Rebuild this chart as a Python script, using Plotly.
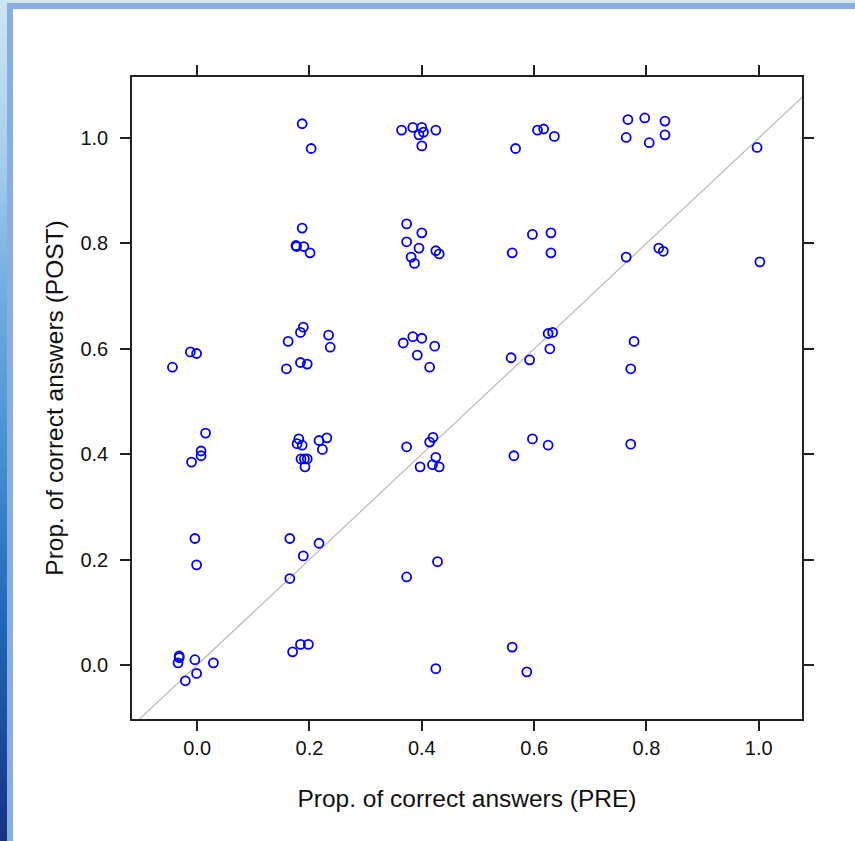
import plotly.graph_objects as go

# ---- data ----
pre = [
    -0.012, -0.001, -0.044,
    0.015, 0.007, 0.007, -0.010,
    -0.004, -0.001,
    -0.032, -0.032, -0.034, -0.004, 0.029, -0.001, -0.021,
    0.187, 0.203,
    0.187, 0.176, 0.177, 0.190, 0.201,
    0.189, 0.184, 0.162, 0.234, 0.237, 0.184, 0.196, 0.159,
    0.181, 0.178, 0.187, 0.217, 0.231, 0.223, 0.185, 0.191, 0.196, 0.192,
    0.165, 0.217, 0.189, 0.165,
    0.184, 0.198, 0.170,
    0.364, 0.384, 0.400, 0.403, 0.395, 0.425, 0.400,
    0.373, 0.400, 0.373, 0.395, 0.425, 0.431, 0.381, 0.387,
    0.367, 0.384, 0.400, 0.423, 0.392, 0.414,
    0.420, 0.414, 0.373, 0.425, 0.397, 0.419, 0.431,
    0.428, 0.373,
    0.425,
    0.606, 0.617, 0.636, 0.567,
    0.597, 0.630, 0.561, 0.630,
    0.625, 0.633, 0.628, 0.559, 0.592,
    0.597, 0.625, 0.564,
    0.561, 0.587,
    0.767, 0.797, 0.833, 0.764, 0.805, 0.833,
    0.764, 0.822, 0.830,
    0.778, 0.772, 0.772,
    0.997, 1.002,
]
post = [
    0.594, 0.591, 0.565,
    0.440, 0.406, 0.397, 0.385,
    0.240, 0.190,
    0.017, 0.014, 0.004, 0.010, 0.004, -0.016, -0.030,
    1.027, 0.980,
    0.829, 0.796, 0.794, 0.794, 0.782,
    0.641, 0.631, 0.614, 0.626, 0.603, 0.574, 0.571, 0.562,
    0.429, 0.420, 0.417, 0.426, 0.431, 0.409, 0.391, 0.391, 0.391, 0.376,
    0.240, 0.231, 0.207, 0.164,
    0.039, 0.039, 0.025,
    1.015, 1.020, 1.020, 1.011, 1.006, 1.015, 0.985,
    0.837, 0.820, 0.803, 0.791, 0.786, 0.780, 0.774, 0.762,
    0.611, 0.623, 0.620, 0.605, 0.588, 0.565,
    0.432, 0.423, 0.414, 0.394, 0.376, 0.380, 0.376,
    0.196, 0.167,
    -0.007,
    1.015, 1.017, 1.003, 0.980,
    0.817, 0.820, 0.782, 0.782,
    0.629, 0.631, 0.600, 0.583, 0.579,
    0.429, 0.417, 0.397,
    0.034, -0.013,
    1.035, 1.038, 1.032, 1.001, 0.991, 1.006,
    0.774, 0.791, 0.785,
    0.614, 0.562, 0.419,
    0.982, 0.765,
]
tick_vals = [0.0, 0.2, 0.4, 0.6, 0.8, 1.0]
tick_text = ["0.0", "0.2", "0.4", "0.6", "0.8", "1.0"]
diag = [-0.2, 1.2]  # identity reference line y = x

# ---- layout geometry ----
W, H = 855, 841
ML, MR, MT, MB = 132, 53, 77, 122
PW, PH = W - ML - MR, H - MT - MB


def px_x(px):
    return (px - ML) / PW


def px_y(py):
    return (H - MB - py) / PH


fig = go.Figure()

fig.add_trace(go.Scatter(
    x=diag, y=diag, mode="lines",
    line=dict(color="#bebebe", width=1.3),
    hoverinfo="skip", showlegend=False,
))
fig.add_trace(go.Scatter(
    x=pre, y=post, mode="markers",
    marker=dict(symbol="circle-open", size=9, color="#0000ff",
                line=dict(width=1.8, color="#0000ff")),
    showlegend=False,
))

# ---- decorative frame (left gradient strip and top strip) ----
stops = [
    (0, (208, 228, 242)),
    (150, (170, 208, 236)),
    (300, (110, 172, 222)),
    (430, (74, 150, 210)),
    (600, (30, 110, 188)),
    (720, (26, 80, 160)),
    (841, (24, 50, 130)),
]


def grad_color(y):
    for (y0, c0), (y1, c1) in zip(stops[:-1], stops[1:]):
        if y0 <= y <= y1:
            t = (y - y0) / (y1 - y0)
            c = [round(a + (b - a) * t) for a, b in zip(c0, c1)]
            return "rgb(%d,%d,%d)" % tuple(c)
    return "rgb(24,50,130)"


shapes = []
step = 6
for y0 in range(0, H, step):
    y1 = min(H, y0 + step)
    shapes.append(dict(
        type="rect", xref="paper", yref="paper", layer="below",
        x0=px_x(0), x1=px_x(7), y0=px_y(y1 + 0.5), y1=px_y(y0),
        fillcolor=grad_color((y0 + y1) / 2), line=dict(width=0),
    ))
shapes.append(dict(type="rect", xref="paper", yref="paper", layer="below",
                   x0=px_x(7), x1=px_x(W), y0=px_y(3), y1=px_y(0),
                   fillcolor="#d3e5f3", line=dict(width=0)))
shapes.append(dict(type="rect", xref="paper", yref="paper", layer="below",
                   x0=px_x(7), x1=px_x(13), y0=px_y(H), y1=px_y(3),
                   fillcolor="#8aaee3", line=dict(width=0)))
shapes.append(dict(type="rect", xref="paper", yref="paper", layer="below",
                   x0=px_x(7), x1=px_x(W), y0=px_y(9), y1=px_y(3),
                   fillcolor="#8aaee3", line=dict(width=0)))

axis_common = dict(
    showline=True, linecolor="#222222", linewidth=1.5, mirror="ticks",
    ticks="outside", ticklen=10, tickwidth=1.5, tickcolor="#222222",
    showgrid=False, zeroline=False,
    tickvals=tick_vals, ticktext=tick_text,
    tickfont=dict(family="Liberation Sans, Arial, sans-serif", size=20, color="#111111"),
)

fig.update_layout(
    width=W, height=H, autosize=False,
    margin=dict(l=ML, r=MR, t=MT, b=MB),
    paper_bgcolor="white", plot_bgcolor="white",
    font=dict(family="Liberation Sans, Arial, sans-serif", color="#111111"),
    shapes=shapes,
    xaxis=dict(range=[-0.116, 1.077],
               title=dict(text="Prop. of correct answers (PRE)",
                          font=dict(size=24.5), standoff=32),
               **axis_common),
    yaxis=dict(range=[-0.1025, 1.1157], ticklabelstandoff=8,
               title=dict(text="Prop. of correct answers (POST)",
                          font=dict(size=24.5), standoff=10),
               **axis_common),
)

fig.write_html(
    "out.html",
    config={"displayModeBar": False},
    post_script="document.body.style.margin='0';document.body.style.overflow='hidden';",
)
